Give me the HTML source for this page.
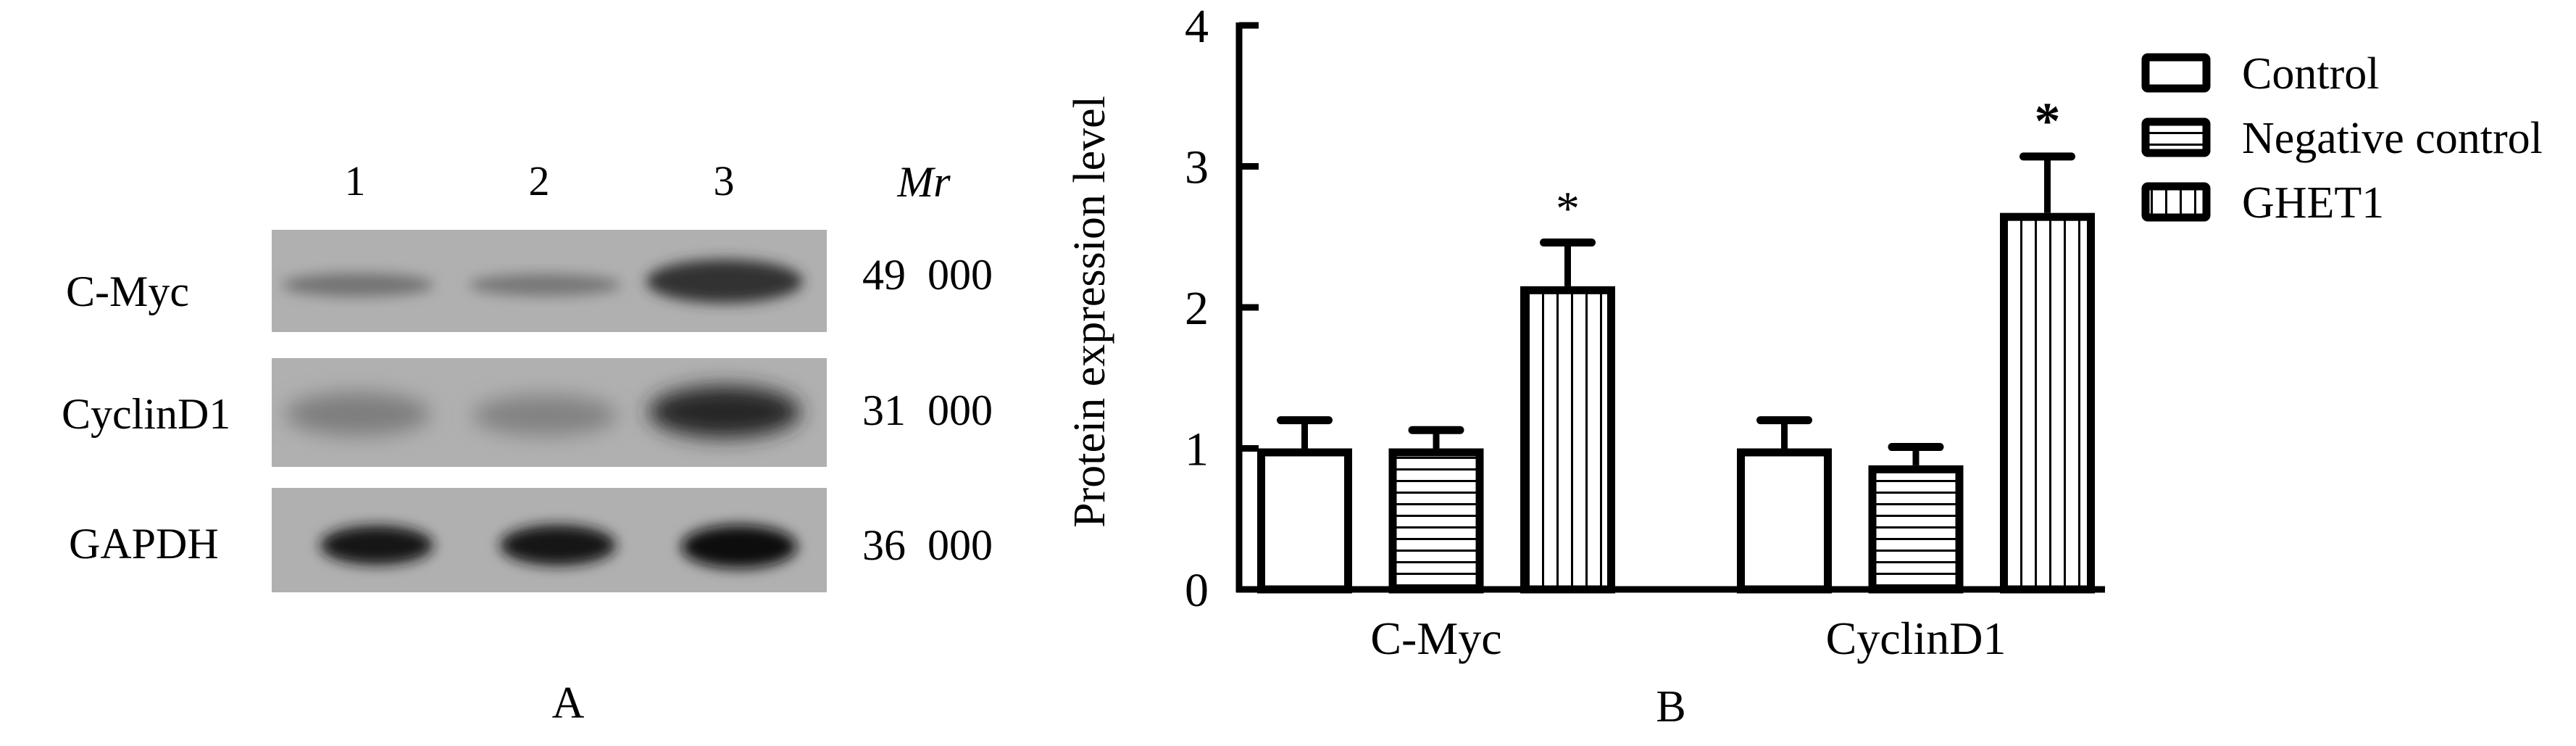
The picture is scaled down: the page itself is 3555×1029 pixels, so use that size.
<!DOCTYPE html>
<html><head><meta charset="utf-8"><style>
html,body{margin:0;padding:0;background:#fff;}
svg{display:block;}
text{font-family:"Liberation Serif",serif;fill:#000;}
</style></head><body>
<svg id="fig" width="3555" height="1029" viewBox="0 0 3555 1029">
<defs>
<filter id="blur" x="-50%" y="-50%" width="200%" height="200%"><feGaussianBlur stdDeviation="9"/></filter>
<filter id="blur2" x="-50%" y="-50%" width="200%" height="200%"><feGaussianBlur stdDeviation="14"/></filter>
<pattern id="hlines" width="20" height="16" patternUnits="userSpaceOnUse"><rect x="0" y="6" width="20" height="3" fill="#000"/></pattern>
<pattern id="vlines" width="20" height="20" patternUnits="userSpaceOnUse"><rect x="8" y="0" width="3" height="20" fill="#000"/></pattern>
</defs>
<g id="panelA">
<text x="490" y="269" font-size="58" text-anchor="middle">1</text>
<text x="744" y="269" font-size="58" text-anchor="middle">2</text>
<text x="999" y="269" font-size="58" text-anchor="middle">3</text>
<text x="1275" y="271" font-size="60" font-style="italic" text-anchor="middle">Mr</text>
<g>
<rect x="375" y="317" width="766" height="141" fill="#b0b0b0"/>
<ellipse cx="494" cy="393" rx="105" ry="16" fill="#727272" filter="url(#blur)"/>
<ellipse cx="752" cy="393" rx="105" ry="15" fill="#767676" filter="url(#blur)"/>
<ellipse cx="1000" cy="388" rx="108" ry="30" fill="#303030" filter="url(#blur)"/>
</g>
<g>
<rect x="375" y="494" width="766" height="150" fill="#b0b0b0"/>
<ellipse cx="494" cy="571" rx="100" ry="30" fill="#7e7e7e" filter="url(#blur2)"/>
<ellipse cx="752" cy="573" rx="100" ry="28" fill="#828282" filter="url(#blur2)"/>
<ellipse cx="1000" cy="568" rx="105" ry="36" fill="#282828" filter="url(#blur2)"/>
</g>
<g>
<rect x="375" y="673" width="766" height="144" fill="#b0b0b0"/>
<ellipse cx="520" cy="752" rx="78" ry="27" fill="#141414" filter="url(#blur)"/>
<ellipse cx="770" cy="752" rx="80" ry="28" fill="#141414" filter="url(#blur)"/>
<ellipse cx="1020" cy="754" rx="80" ry="30" fill="#111" filter="url(#blur)"/>
</g>
<text x="91" y="422" font-size="60">C-Myc</text>
<text x="85" y="591" font-size="60">CyclinD1</text>
<text x="95" y="770" font-size="60">GAPDH</text>
<text x="1190" y="399" font-size="60">49&#160;&#160;000</text>
<text x="1190" y="586" font-size="60">31&#160;&#160;000</text>
<text x="1190" y="772" font-size="60">36&#160;&#160;000</text>
<text x="784" y="990" font-size="62" text-anchor="middle">A</text>
</g>
<g id="panelB"></g>
</svg>
<script>
const categories = ["C-Myc", "CyclinD1"];
const seriesNames = ["Control", "Negative control", "GHET1"];
const controlVals = [1.0, 1.0];
const negVals = [1.0, 0.88];
const ghetVals = [2.15, 2.67];
const controlErr = [0.20, 0.20];
const negErr = [0.13, 0.13];
const ghetErr = [0.31, 0.40];
const yTicks = [0, 1, 2, 3, 4];
const starred = [false, false, true];

const NS = "http://www.w3.org/2000/svg";
const g = document.getElementById("panelB");
function el(tag, attrs, parent) {
  const e = document.createElementNS(NS, tag);
  for (const k in attrs) e.setAttribute(k, attrs[k]);
  (parent || g).appendChild(e);
  return e;
}
const y0 = 813, unit = 194.5, axisX = 1710;
function yScale(v) { return y0 - v * unit; }
const groupStart = 1735, groupStep = 662, barStep = 181.5, barW = 131;
function xBar(gi, si) { return groupStart + gi * groupStep + si * barStep; }
const fills = ["#fff", "url(#hlines)", "url(#vlines)"];
const values = [controlVals, negVals, ghetVals];
const errs = [controlErr, negErr, ghetErr];
const keys = ["control", "negative-control", "ghet1"];

for (let gi = 0; gi < categories.length; gi++) {
  for (let si = 0; si < 3; si++) {
    const v = values[si][gi], e = errs[si][gi];
    const x = xBar(gi, si), yt = yScale(v), ye = yScale(v + e);
    const cx = x + barW / 2;
    const stem = el("line", {x1: cx, x2: cx, y1: yt, y2: ye, stroke: "#000", "stroke-width": 9});
    
    
    const cap = el("line", {x1: cx - 33, x2: cx + 33, y1: ye, y2: ye, stroke: "#000", "stroke-width": 11, "stroke-linecap": "round"});
    
    
    const r = el("rect", {x: x + 5.5, y: yt + 5.5, width: barW - 11, height: y0 - yt - 5.5, fill: fills[si], stroke: "#000", "stroke-width": 11});
    
    
    if (starred[si]) {
      const s = el("text", {x: cx, y: ye - 25, "font-size": gi === 0 ? 66 : 72, "font-weight": gi === 0 ? "normal" : "bold", "text-anchor": "middle"});
      s.textContent = "*";
      
      
    }
  }
  const lbl = el("text", {x: groupStart + gi * groupStep + barStep + barW / 2, y: 902, "font-size": 64, "text-anchor": "middle"});
  lbl.textContent = categories[gi];
  
  
}
const ya = el("line", {x1: axisX, x2: axisX, y1: 31, y2: y0 + 4, stroke: "#000", "stroke-width": 9});


const xa = el("line", {x1: axisX - 4, x2: 2905, y1: y0, y2: y0, stroke: "#000", "stroke-width": 9});


yTicks.forEach(t => {
  const y = yScale(t);
  const tk = el("line", {x1: axisX, x2: axisX + 27, y1: y, y2: y, stroke: "#000", "stroke-width": 9});
  
  
  const tl = el("text", {x: 1668, y: y + 23, "font-size": 66, "text-anchor": "end"});
  tl.textContent = String(t);
  
  
});
const yt = el("text", {x: 0, y: 0, "font-size": 62, "text-anchor": "middle", transform: "translate(1524,430) rotate(-90)"});
yt.textContent = "Protein expression level";


const bl = el("text", {x: 2306, y: 995, "font-size": 62, "text-anchor": "middle"});
bl.textContent = "B";


const legY = [74, 163, 252];
seriesNames.forEach((n, i) => {
  const r = el("rect", {x: 2961, y: legY[i] + 5, width: 84, height: 43, fill: fills[i], stroke: "#000", "stroke-width": 11, rx: 3});
  
  
  const t = el("text", {x: 3094, y: legY[i] + 48, "font-size": 62});
  t.textContent = n;
  
  
});
</script>
</body></html>
